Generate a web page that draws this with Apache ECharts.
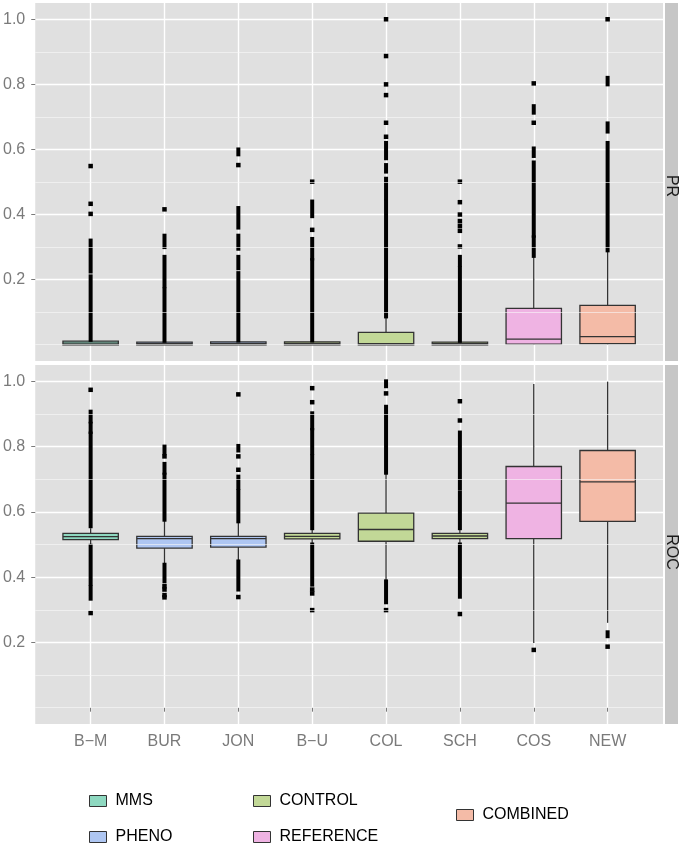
<!DOCTYPE html>
<html><head><meta charset="utf-8">
<script src="https://cdn.jsdelivr.net/npm/echarts@6.0.0/dist/echarts.min.js"></script>
<style>html,body{margin:0;padding:0;background:#fff}#c{width:680px;height:846px}</style>
</head><body><div id="c"></div><script>
// ---------------- data ----------------
const categories = ['B\u2212M','BUR','JON','B\u2212U','COL','SCH','COS','NEW'];
const groupOf = ['MMS','PHENO','PHENO','CONTROL','CONTROL','CONTROL','REFERENCE','COMBINED'];
const groups = ['MMS','PHENO','CONTROL','REFERENCE','COMBINED'];
const panelNames = ['PR','ROC'];
const yTicks = [0.2,0.4,0.6,0.8,1.0];
const yMinor = [0.0,0.1,0.3,0.5,0.7,0.9];

// box stats per category: [lower whisker, q1, median, q3, upper whisker]
const prBoxes = [
  [0.000,0.000,0.005,0.011,0.015],
  [0.000,0.000,0.003,0.008,0.012],
  [0.000,0.000,0.004,0.009,0.013],
  [0.000,0.000,0.004,0.009,0.013],
  [0.000,0.000,0.003,0.038,0.087],
  [0.000,0.000,0.003,0.008,0.012],
  [0.000,0.002,0.017,0.112,0.273],
  [0.000,0.003,0.025,0.121,0.290]
];
const rocBoxes = [
  [0.500,0.515,0.524,0.534,0.550],
  [0.435,0.489,0.518,0.525,0.576],
  [0.448,0.492,0.518,0.525,0.571],
  [0.500,0.517,0.525,0.534,0.550],
  [0.387,0.510,0.546,0.596,0.720],
  [0.500,0.518,0.526,0.534,0.550],
  [0.198,0.518,0.627,0.739,0.992],
  [0.260,0.571,0.692,0.788,0.999]
];

// dense runs of overlapping outliers: [category, from, to]
const prRuns = [
  ['B\u2212M',0.015,0.21],['B\u2212M',0.225,0.32],
  ['BUR',0.012,0.17],['BUR',0.18,0.27],['BUR',0.30,0.335],
  ['JON',0.013,0.22],['JON',0.235,0.27],['JON',0.295,0.335],['JON',0.36,0.42],['JON',0.585,0.60],
  ['B\u2212U',0.013,0.26],['B\u2212U',0.265,0.325],['B\u2212U',0.395,0.44],
  ['COL',0.087,0.44],['COL',0.45,0.51],['COL',0.532,0.552],['COL',0.573,0.62],
  ['SCH',0.012,0.235],['SCH',0.245,0.27],
  ['COS',0.273,0.33],['COS',0.335,0.56],['COS',0.58,0.603],['COS',0.713,0.733],
  ['NEW',0.29,0.62],['NEW',0.655,0.68],['NEW',0.80,0.82]
];
const rocRuns = [
  ['B\u2212M',0.556,0.84],['B\u2212M',0.845,0.87],['B\u2212M',0.877,0.907],['B\u2212M',0.334,0.37],['B\u2212M',0.38,0.496],
  ['BUR',0.576,0.714],['BUR',0.72,0.747],['BUR',0.78,0.80],['BUR',0.387,0.438],
  ['JON',0.571,0.663],['JON',0.673,0.708],['JON',0.788,0.802],['JON',0.362,0.448],
  ['B\u2212U',0.55,0.77],['B\u2212U',0.78,0.851],['B\u2212U',0.856,0.902],['B\u2212U',0.377,0.50],
  ['COL',0.72,0.922],['COL',0.985,1.0],['COL',0.323,0.387],
  ['SCH',0.55,0.66],['SCH',0.673,0.843],['SCH',0.34,0.50],
  ['NEW',0.219,0.231]
];
// isolated outliers: [category, value]
const prPoints = [
  ['B\u2212M',0.402],['B\u2212M',0.433],['B\u2212M',0.549],
  ['BUR',0.416],
  ['JON',0.552],
  ['B\u2212U',0.353],['B\u2212U',0.501],
  ['COL',0.639],['COL',0.682],['COL',0.767],['COL',0.80],['COL',0.887],['COL',1.0],
  ['SCH',0.302],['SCH',0.35],['SCH',0.365],['SCH',0.38],['SCH',0.40],['SCH',0.438],['SCH',0.501],
  ['COS',0.682],['COS',0.803],
  ['NEW',1.0]
];
const rocPoints = [
  ['B\u2212M',0.974],['B\u2212M',0.29],
  ['BUR',0.77],['BUR',0.372],['BUR',0.362],['BUR',0.345],['BUR',0.338],
  ['JON',0.729],['JON',0.77],['JON',0.96],['JON',0.339],
  ['B\u2212U',0.936],['B\u2212U',0.979],['B\u2212U',0.362],['B\u2212U',0.35],['B\u2212U',0.299],
  ['COL',0.963],['COL',0.299],
  ['SCH',0.88],['SCH',0.939],['SCH',0.287],
  ['COS',0.177],
  ['NEW',0.187]
];

// ---------------- styles ----------------
const groupColors = {MMS:'#8ed8c0', PHENO:'#aec6f2', CONTROL:'#c2d897', REFERENCE:'#efb3e3', COMBINED:'#f4bba7'};
const legendPos = {MMS:[89,793], PHENO:[89,829], CONTROL:[253,793], REFERENCE:[253,829], COMBINED:[456,807]};
const FONT = '"Liberation Sans", Arial, Helvetica, sans-serif';
const PANEL_BG = '#e0e0e0';
const STRIP_BG = '#c6c6c6';
const AXIS_GREY = '#7a7a7a';
const BOX_W = 0.75;
const PT = 4;

const xTickVals = categories.map((c,i)=>i+1);
const catIdx = name => categories.indexOf(name) + 1;

function renderBox(params, api) {
  const x = api.value(0);
  const lo = api.coord([x, api.value(1)]);
  const q1 = api.coord([x, api.value(2)]);
  const md = api.coord([x, api.value(3)]);
  const q3 = api.coord([x, api.value(4)]);
  const hi = api.coord([x, api.value(5)]);
  const hw = api.size([BOX_W, 0])[0] / 2;
  const stroke = '#333333';
  return {type:'group', children:[
    {type:'line', shape:{x1:lo[0],y1:lo[1],x2:q1[0],y2:q1[1]}, style:{stroke, lineWidth:1.3}},
    {type:'line', shape:{x1:q3[0],y1:q3[1],x2:hi[0],y2:hi[1]}, style:{stroke, lineWidth:1.3}},
    {type:'rect', shape:{x:q3[0]-hw, y:q3[1], width:2*hw, height:q1[1]-q3[1]},
      style:{fill: api.visual('color'), stroke, lineWidth:1.3}},
    {type:'line', shape:{x1:md[0]-hw,y1:md[1],x2:md[0]+hw,y2:md[1]}, style:{stroke, lineWidth:1.3}}
  ]};
}
function renderRun(params, api) {
  const x = api.value(0);
  const a = api.coord([x, api.value(1)]);
  const b = api.coord([x, api.value(2)]);
  return {type:'rect', shape:{x:a[0]-PT/2, y:b[1]-PT/2, width:PT, height:a[1]-b[1]+PT}, style:{fill:'#000'}};
}

const panels = [
  {boxes: prBoxes, runs: prRuns, points: prPoints},
  {boxes: rocBoxes, runs: rocRuns, points: rocPoints}
];
const series = [];
panels.forEach((p, pi) => {
  series.push({type:'line', xAxisIndex:pi, yAxisIndex:pi, data:[], silent:true, z:1,
    markLine:{silent:true, symbol:'none', animation:false, label:{show:false},
      lineStyle:{color:'#f8f8f8', width:0.6, type:'solid'},
      emphasis:{disabled:true},
      data: yMinor.map(v=>({yAxis:v}))}});
  groups.forEach(g => {
    const data = [];
    categories.forEach((c,i) => { if (groupOf[i] === g) data.push([i+1].concat(p.boxes[i])); });
    series.push({type:'custom', name:g, xAxisIndex:pi, yAxisIndex:pi, z:3, silent:true,
      itemStyle:{color:groupColors[g], borderColor:'#333', borderWidth:1},
      renderItem: renderBox, encode:{x:0, y:[1,2,3,4,5]}, data});
  });
  series.push({type:'custom', name:'runs'+pi, xAxisIndex:pi, yAxisIndex:pi, z:4, silent:true,
    renderItem: renderRun, encode:{x:0, y:[1,2]},
    data: p.runs.map(r => [catIdx(r[0]), r[1], r[2]])});
  series.push({type:'scatter', name:'pts'+pi, xAxisIndex:pi, yAxisIndex:pi, z:4, silent:true,
    symbol:'rect', symbolSize:PT+0.5, itemStyle:{color:'#000', opacity:1},
    data: p.points.map(r => [catIdx(r[0]), r[1]])});
});

const grids = [
  {left:35, top:3, width:628, height:358, show:true, backgroundColor:PANEL_BG, borderWidth:0},
  {left:35, top:365, width:628, height:359, show:true, backgroundColor:PANEL_BG, borderWidth:0}
];

const option = {
  animation:false,
  backgroundColor:'#ffffff',
  textStyle:{fontFamily:FONT},
  grid: grids,
  xAxis: [0,1].map(i => ({
    type:'value', gridIndex:i, min:0.25, max:8.75,
    axisLine:{show:false},
    axisTick:{show:i===1, customValues:xTickVals, length:4, lineStyle:{color:AXIS_GREY, width:1}},
    axisLabel:{show:i===1, customValues:xTickVals, formatter:v=>categories[Math.round(v)-1],
      color:AXIS_GREY, fontSize:16, margin:10, fontFamily:FONT},
    splitLine:{show:true, lineStyle:{color:'#ffffff', width:1.4}}
  })),
  yAxis: [0,1].map(i => ({
    type:'value', gridIndex:i, min:-0.05, max:1.05,
    axisLine:{show:false},
    axisTick:{show:true, customValues:yTicks, length:4, lineStyle:{color:AXIS_GREY, width:1}},
    axisLabel:{show:true, customValues:yTicks, formatter:v=>v.toFixed(1),
      color:AXIS_GREY, fontSize:16, margin:10, fontFamily:FONT},
    splitLine:{show:true, lineStyle:{color:'#ffffff', width:1.4}}
  })),
  legend: groups.map(g => ({
    data:[g], left:legendPos[g][0], top:legendPos[g][1], padding:0,
    icon:'rect', itemWidth:17, itemHeight:11, selectedMode:false,
    itemStyle:{borderColor:'#333', borderWidth:1},
    textStyle:{fontSize:16, color:'#000', fontFamily:FONT, padding:[0,0,0,4]}
  })),
  graphic: [
    {type:'rect', left:665, top:3, shape:{width:13, height:358}, style:{fill:STRIP_BG}, silent:true},
    {type:'rect', left:665, top:365, shape:{width:13, height:359}, style:{fill:STRIP_BG}, silent:true},
    {type:'text', x:671.5, y:186, rotation:-Math.PI/2, silent:true,
      style:{text:panelNames[0], fill:'#1a1a1a', font:'16px '+FONT, align:'center', verticalAlign:'middle'}},
    {type:'text', x:671.5, y:552, rotation:-Math.PI/2, silent:true,
      style:{text:panelNames[1], fill:'#1a1a1a', font:'16px '+FONT, align:'center', verticalAlign:'middle'}}
  ],
  series
};
const chart = echarts.init(document.getElementById('c'), null, {renderer:'canvas'});
chart.setOption(option);
</script></body></html>
